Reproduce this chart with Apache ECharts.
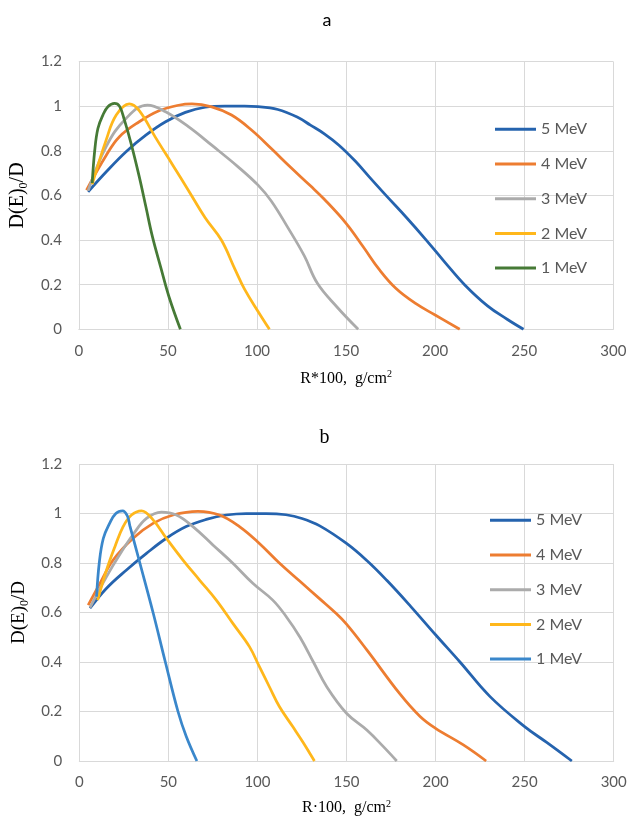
<!DOCTYPE html>
<html><head><meta charset="utf-8">
<script src="https://cdn.jsdelivr.net/npm/echarts@6/dist/echarts.min.js"></script>
<style>html,body{margin:0;padding:0;background:#fff}#c{width:630px;height:826px}</style>
</head><body><div id="c"></div>
<script>
// ---------- data (chart a) ----------
const xTicks = [0, 50, 100, 150, 200, 250, 300];
const yTicks = [0, 0.2, 0.4, 0.6, 0.8, 1, 1.2];
const seriesNames = ['5 MeV', '4 MeV', '3 MeV', '2 MeV', '1 MeV'];

const a5x = [5.2, 15.4, 26.5, 37.6, 48.7, 59.8, 70.9, 82, 93, 100.6, 111.7, 122.8, 130, 138, 146, 155, 163, 172.4, 184, 195, 205.5, 216.5, 229.4, 240.4, 249.6];
const a5y = [0.616, 0.706, 0.796, 0.87, 0.93, 0.972, 0.995, 1.0, 1.0, 0.998, 0.985, 0.95, 0.915, 0.875, 0.825, 0.755, 0.683, 0.6, 0.5, 0.4, 0.3, 0.2, 0.105, 0.045, 0];
const a4x = [4.3, 15.4, 22.8, 33.9, 45, 56, 63.5, 74.6, 85.7, 96.9, 108, 119, 130, 137.5, 150, 159.6, 168.8, 177.9, 189, 200, 213.8];
const a4y = [0.624, 0.78, 0.863, 0.93, 0.979, 1.004, 1.01, 0.997, 0.96, 0.893, 0.81, 0.725, 0.643, 0.585, 0.475, 0.37, 0.266, 0.184, 0.116, 0.064, 0];
const a3x = [5.2, 15.4, 26.5, 38.5, 48.7, 61.7, 74.6, 89.4, 100.6, 108, 117, 126.5, 133.9, 144.9, 156.8];
const a3y = [0.62, 0.82, 0.945, 1.005, 0.975, 0.907, 0.825, 0.728, 0.646, 0.575, 0.46, 0.33, 0.206, 0.10, 0];
const a2x = [7.5, 15.4, 21, 28.3, 33.9, 43, 52.4, 61.7, 70.9, 80, 87.6, 93, 100.6, 107];
const a2y = [0.65, 0.85, 0.96, 1.01, 0.98, 0.86, 0.74, 0.62, 0.50, 0.40, 0.27, 0.18, 0.08, 0];
const a1x = [7.5, 8.9, 10.7, 13.5, 16.3, 20, 22.8, 25.6, 29.3, 33.9, 37.6, 41.3, 45.9, 50.6, 57];
const a1y = [0.655, 0.80, 0.90, 0.96, 0.997, 1.012, 1.0, 0.937, 0.833, 0.684, 0.55, 0.415, 0.28, 0.146, 0];

// ---------- data (chart b) ----------
const b5x = [6, 15.3, 26.5, 37.7, 48.9, 60, 71.3, 82.5, 93.7, 104.9, 116, 125, 135, 150, 161.4, 172.6, 186, 200, 213.7, 230.6, 250, 262.4, 276.5];
const b5y = [0.617, 0.698, 0.772, 0.839, 0.9, 0.947, 0.976, 0.994, 1.0, 1.0, 0.995, 0.98, 0.95, 0.879, 0.81, 0.73, 0.625, 0.51, 0.40, 0.26, 0.139, 0.075, 0];
const b4x = [5, 11.6, 19, 30.2, 41.4, 52.6, 66.6, 78.7, 89.9, 101.1, 112.3, 123.7, 135, 143.6, 150, 161.4, 180.1, 191.3, 200, 215.6, 228.4];
const b4y = [0.63, 0.718, 0.812, 0.9, 0.96, 0.994, 1.009, 0.994, 0.947, 0.879, 0.8, 0.727, 0.655, 0.6, 0.553, 0.449, 0.27, 0.18, 0.132, 0.065, 0];
const b3x = [6, 15.3, 22.8, 30.2, 37.7, 46.1, 54.5, 63.8, 75, 86.2, 97.4, 108.6, 116, 123.9, 131.4, 138.9, 150, 161.4, 170.7, 178.2];
const b3y = [0.62, 0.745, 0.835, 0.915, 0.98, 1.006, 0.994, 0.947, 0.873, 0.799, 0.718, 0.65, 0.585, 0.5, 0.40, 0.30, 0.193, 0.125, 0.058, 0];
const b2x = [10.3, 15.3, 20, 24.6, 29.3, 34.9, 41.4, 48.9, 58.2, 67.5, 76.9, 86.2, 95.5, 101.1, 106.7, 112.3, 119.8, 125.4, 132];
const b2y = [0.65, 0.772, 0.866, 0.947, 0.994, 1.011, 0.974, 0.9, 0.812, 0.731, 0.65, 0.556, 0.462, 0.381, 0.30, 0.22, 0.139, 0.078, 0];
const b1x = [9.7, 11.2, 13.5, 17, 20.5, 24.3, 27, 28.4, 34, 41.4, 48.3, 55.4, 60, 66];
const b1y = [0.664, 0.80, 0.90, 0.96, 1.0, 1.011, 0.99, 0.95, 0.8, 0.6, 0.4, 0.2, 0.1, 0];

const colorsA = ['#2563AE', '#ED7D31', '#ABABAB', '#FFB71B', '#467A36'];
const colorsB = ['#2563AE', '#ED7D31', '#ABABAB', '#FFB71B', '#3A87CB'];

function pairs(xs, ys) { return xs.map((x, i) => [x, ys[i]]); }
const dataA = [pairs(a5x, a5y), pairs(a4x, a4y), pairs(a3x, a3y), pairs(a2x, a2y), pairs(a1x, a1y)];
const dataB = [pairs(b5x, b5y), pairs(b4x, b4y), pairs(b3x, b3y), pairs(b2x, b2y), pairs(b1x, b1y)];

const tickFont = { fontFamily: 'Lato', fontSize: 15, color: '#595959' };
const grid = '#D9D9D9';

function xAxis(gi, nameRich, gap) {
  return {
    type: 'value', gridIndex: gi, min: xTicks[0], max: xTicks[xTicks.length - 1], interval: xTicks[1] - xTicks[0],
    axisLine: { show: true, lineStyle: { color: grid, width: 1 } },
    axisTick: { show: false },
    splitLine: { show: true, lineStyle: { color: grid, width: 1 } },
    axisLabel: Object.assign({ margin: 14 }, tickFont),
    name: nameRich, nameLocation: 'middle', nameGap: gap,
    nameTextStyle: {
      fontFamily: 'Liberation Serif', fontSize: 16, color: '#000',
      rich: { sup: { fontFamily: 'Liberation Serif', fontSize: 10, color: '#000', verticalAlign: 'top', lineHeight: 18 },
              n: { fontFamily: 'Liberation Serif', fontSize: 16, color: '#000', lineHeight: 18 } }
    }
  };
}
function yAxis(gi, fs, gap) {
  return {
    type: 'value', gridIndex: gi, min: yTicks[0], max: yTicks[yTicks.length - 1], interval: yTicks[1] - yTicks[0],
    axisLine: { show: false }, axisTick: { show: false },
    splitLine: { show: true, lineStyle: { color: grid, width: 1 } },
    axisLabel: Object.assign({ margin: 17 }, tickFont),
    name: '{n|D(E)}{sub|0}{n|/D}', nameLocation: 'middle', nameRotate: 90, nameGap: gap,
    nameTextStyle: {
      rich: { n: { fontFamily: 'Liberation Serif', fontSize: fs, color: '#000', lineHeight: fs + 4 },
              sub: { fontFamily: 'Liberation Serif', fontSize: Math.round(fs * 0.62), color: '#000', verticalAlign: 'bottom', lineHeight: fs + 4 } }
    }
  };
}

const series = [];
dataA.forEach((d, i) => series.push({ name: seriesNames[i], type: 'line', xAxisIndex: 0, yAxisIndex: 0, data: d,
  smooth: 0.4, showSymbol: false, lineStyle: { width: 2.75, color: colorsA[i] }, itemStyle: { color: colorsA[i] } }));
dataB.forEach((d, i) => series.push({ name: seriesNames[i], type: 'line', xAxisIndex: 1, yAxisIndex: 1, data: d,
  smooth: 0.4, showSymbol: false, lineStyle: { width: 2.75, color: colorsB[i] }, itemStyle: { color: colorsB[i] } }));

function legend(left, top, colors) {
  return {
    left: left, top: top, orient: 'vertical', icon: 'rect', itemWidth: 41, itemHeight: 3, itemGap: 14.7,
    padding: 0, selectedMode: false,
    textStyle: { fontFamily: 'Lato', fontSize: 16, color: '#595959', lineHeight: 20 },
    data: seriesNames.map((n, i) => ({ name: n, itemStyle: { color: colors[i] } }))
  };
}

const option = {
  animation: false,
  title: [
    { text: 'a', left: 322, top: 6, textAlign: 'center', textStyle: { fontFamily: 'Lato', fontSize: 18, fontWeight: 'normal', color: '#000' } },
    { text: 'b', left: 319.5, top: 423, textAlign: 'center', textStyle: { fontFamily: 'Liberation Serif', fontSize: 20, fontWeight: 'normal', color: '#000' } }
  ],
  grid: [
    { left: 72.3, top: 61.5, width: 541, height: 267.8 },
    { left: 79.3, top: 464, width: 534.4, height: 297 }
  ],
  xAxis: [xAxis(0, '{n|R*100,  g/cm}{sup|2}', 40), xAxis(1, '{n|R·100,  g/cm}{sup|2}', 38)],
  yAxis: [yAxis(0, 20, 42), yAxis(1, 19, 42)],
  legend: [legend(495, 119.3, colorsA), legend(490, 510.3, colorsB)],
  series: series
};
const chart = echarts.init(document.getElementById('c'), null, { renderer: 'canvas' });
chart.setOption(option);
</script></body></html>
